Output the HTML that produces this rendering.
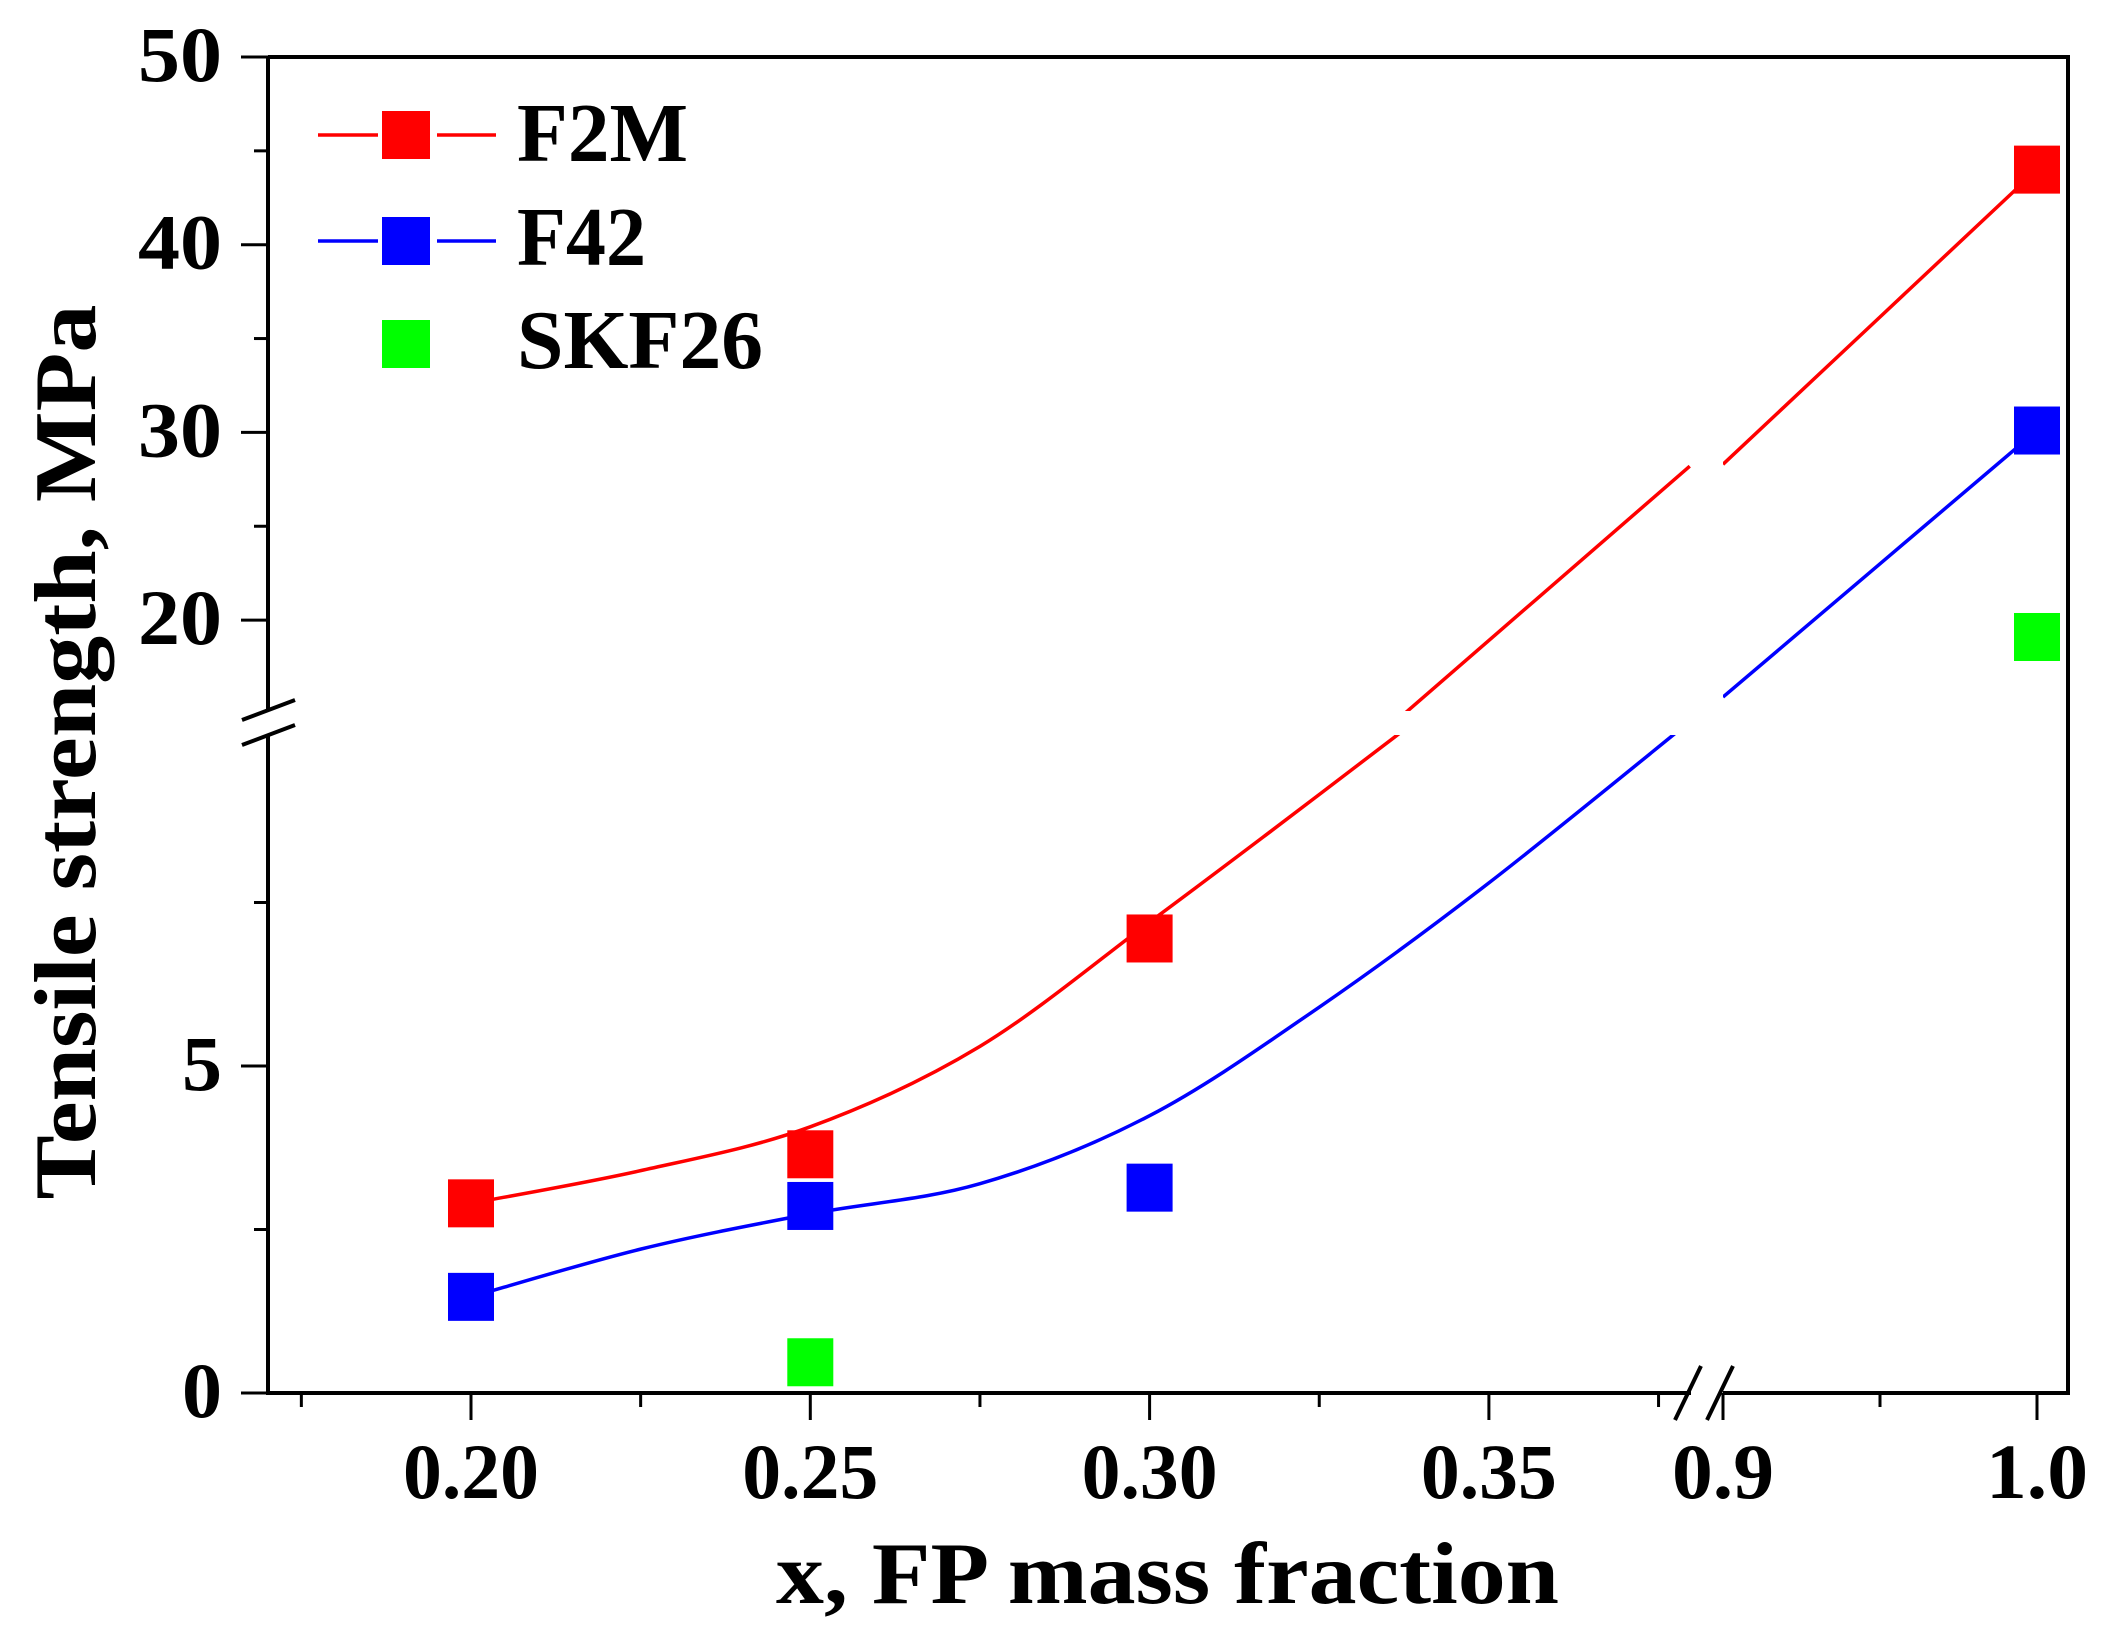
<!DOCTYPE html>
<html><head><meta charset="utf-8"><style>
html,body{margin:0;padding:0;background:#fff;}
svg{display:block;}
text{font-family:"Liberation Serif",serif;font-weight:bold;fill:#000;}
</style></head><body>
<svg id="chart" width="2116" height="1647" viewBox="0 0 2116 1647" xmlns="http://www.w3.org/2000/svg">
<defs>
<clipPath id="clipLower"><rect x="268" y="735" width="1423" height="660"/></clipPath>
<clipPath id="clipUpper"><rect x="268" y="50" width="1423" height="661"/></clipPath>
<clipPath id="clipRight"><rect x="1723" y="50" width="345" height="1345"/></clipPath>
</defs>
<g id="axes"></g>
<g id="curves"></g>
<g id="marks"></g>
<g id="legend">
  <g>
    <line x1="318" y1="135" x2="378" y2="135" stroke="#ff0000" stroke-width="3.5"/>
    <line x1="437" y1="135" x2="496" y2="135" stroke="#ff0000" stroke-width="3.5"/>
    <rect x="382" y="111" width="48" height="48" fill="#ff0000"/>
    <text x="517" y="161" font-size="84" textLength="171" lengthAdjust="spacingAndGlyphs">F2M</text>
  </g>
  <g>
    <line x1="318" y1="241" x2="378" y2="241" stroke="#0000ff" stroke-width="3.5"/>
    <line x1="437" y1="241" x2="496" y2="241" stroke="#0000ff" stroke-width="3.5"/>
    <rect x="382" y="217" width="48" height="48" fill="#0000ff"/>
    <text x="517" y="265" font-size="84" textLength="129" lengthAdjust="spacingAndGlyphs">F42</text>
  </g>
  <g>
    <rect x="382" y="320" width="48" height="48" fill="#00ff00"/>
    <text x="517" y="368" font-size="84" textLength="246" lengthAdjust="spacingAndGlyphs">SKF26</text>
  </g>
</g>
<text x="776" y="1603" font-size="88" textLength="783" lengthAdjust="spacingAndGlyphs">x, FP mass fraction</text>
<text transform="translate(95,752) rotate(-90)" text-anchor="middle" font-size="88" textLength="895" lengthAdjust="spacingAndGlyphs">Tensile strength, MPa</text>
</svg>
<script>
// ---- data ----
const categoriesX = [0.20, 0.25, 0.30, 1.0];
const f2mValues = [2.9, 3.65, 6.95, 44.0];
const f42Values = [1.47, 2.86, 3.14, 30.1];
const skfX = [0.25, 1.0];
const skfValues = [0.47, 19.1];
// fit curves, per axis panel
const f2mFitLowerX = [0.2, 0.225, 0.25, 0.275, 0.3, 0.318, 0.337];
const f2mFitLowerY = [2.9, 3.4, 4.07, 5.3, 7.2, 8.6, 10.1];
const f2mFitUpperX = [0.334, 0.3796];
const f2mFitUpperY = [13.9, 28.2];
const f2mFitRightX = [0.9, 1.0];
const f2mFitRightY = [28.3, 44.0];
const f42FitLowerX = [0.2, 0.225, 0.25, 0.275, 0.3, 0.325, 0.35, 0.38];
const f42FitLowerY = [1.47, 2.2, 2.74, 3.2, 4.24, 5.9, 7.8, 10.3];
const f42FitRightX = [0.9, 1.0];
const f42FitRightY = [15.9, 30.1];
const xTickLeft = [0.20, 0.25, 0.30, 0.35];
const xTickLeftLabels = ["0.20", "0.25", "0.30", "0.35"];
const xMinorLeft = [0.175, 0.225, 0.275, 0.325, 0.375];
const xTickRight = [0.9, 1.0];
const xTickRightLabels = ["0.9", "1.0"];
const xMinorRight = [0.95];
const yTickLower = [0, 5];
const yMinorLower = [2.5, 7.5];
const yTickUpper = [20, 30, 40, 50];
const yMinorUpper = [25, 35, 45];

// ---- scales ----
function xs(v){ return v < 0.6 ? 471 + (v - 0.2) * 6786 : 1723 + (v - 0.9) * 3140; }
function ysLower(v){ return 1393 - v * 65.4; }
function ysUpper(v){ return 57 + (50 - v) * 18.77; }
function ys(v){ return v > 12 ? ysUpper(v) : ysLower(v); }

const NS = "http://www.w3.org/2000/svg";
function mk(tag, attrs, parent){
  const e = document.createElementNS(NS, tag);
  for (const k in attrs) e.setAttribute(k, attrs[k]);
  parent.appendChild(e); return e;
}
const axes = document.getElementById('axes');
const curves = document.getElementById('curves');
const marks = document.getElementById('marks');

let fr = mk('path', {d: 'M268,57 L2068,57 L2068,1393 L1723,1393 M1691,1393 L268,1393 L268,735 M268,711 L268,57', fill: 'none', stroke: '#000', 'stroke-width': 4}, axes);


let bk = mk('path', {d: 'M242,720 L295,700 M242,745 L295,725 M1675,1420 L1701,1366 M1707,1420 L1733,1366', fill: 'none', stroke: '#000', 'stroke-width': 4}, axes);



function xTick(v, len, label){
  const x = xs(v);
  const t = mk('line', {x1: x, y1: 1393, x2: x, y2: 1393 + len, stroke: '#000', 'stroke-width': 3}, axes);
  
  
  if (label) {
    const w = label.length === 4 ? 136 : 102;
    const tx = mk('text', {x: x - w / 2, y: 1498, 'font-size': 78, textLength: w, lengthAdjust: 'spacingAndGlyphs'}, axes);
    tx.textContent = label;
    
    
  }
}
xTickLeft.forEach((v, i) => xTick(v, 27, xTickLeftLabels[i]));
xMinorLeft.forEach(v => xTick(v, 14));
xTickRight.forEach((v, i) => xTick(v, 27, xTickRightLabels[i]));
xMinorRight.forEach(v => xTick(v, 14));

function yTick(y, len, label){
  const t = mk('line', {x1: 268 - len, y1: y, x2: 268, y2: y, stroke: '#000', 'stroke-width': 3}, axes);
  
  
  if (label !== undefined) {
    const w = label.length === 2 ? 84 : 40;
    const tx = mk('text', {x: 222 - w, y: y + 24, 'font-size': 78, textLength: w, lengthAdjust: 'spacingAndGlyphs'}, axes);
    tx.textContent = label;
    
    
  }
}
yTickLower.forEach(v => yTick(ysLower(v), 27, String(v)));
yMinorLower.forEach(v => yTick(ysLower(v), 14));
yTickUpper.forEach(v => yTick(ysUpper(v), 27, String(v)));
yMinorUpper.forEach(v => yTick(ysUpper(v), 14));

function curvePath(X, Y, yf){
  const p = X.map((v, i) => [xs(v), yf(Y[i])]);
  let d = 'M' + p[0][0] + ',' + p[0][1];
  for (let i = 0; i < p.length - 1; i++) {
    const p0 = p[i - 1] || p[i], p1 = p[i], p2 = p[i + 1], p3 = p[i + 2] || p2;
    const c1 = [p1[0] + (p2[0] - p0[0]) / 6, p1[1] + (p2[1] - p0[1]) / 6];
    const c2 = [p2[0] - (p3[0] - p1[0]) / 6, p2[1] - (p3[1] - p1[1]) / 6];
    d += ' C' + c1.join(',') + ' ' + c2.join(',') + ' ' + p2.join(',');
  }
  return d;
}
function drawCurve(X, Y, yf, clip, color, name){
  const c = mk('path', {d: curvePath(X, Y, yf), fill: 'none', stroke: color, 'stroke-width': 3.5, 'clip-path': 'url(#' + clip + ')'}, curves);
  
  
}
drawCurve(f2mFitLowerX, f2mFitLowerY, ysLower, 'clipLower', '#ff0000', 'f2m-fit-lower');
drawCurve(f2mFitUpperX, f2mFitUpperY, ysUpper, 'clipUpper', '#ff0000', 'f2m-fit-upper');
drawCurve(f2mFitRightX, f2mFitRightY, ysUpper, 'clipRight', '#ff0000', 'f2m-fit-right');
drawCurve(f42FitLowerX, f42FitLowerY, ysLower, 'clipLower', '#0000ff', 'f42-fit-lower');
drawCurve(f42FitRightX, f42FitRightY, ysUpper, 'clipRight', '#0000ff', 'f42-fit-right');

function marker(xv, yv, color, name){
  const r = mk('rect', {x: xs(xv) - 23, y: ys(yv) - 24, width: 46, height: 48, fill: color}, marks);
  
  
}
categoriesX.forEach((x, i) => marker(x, f2mValues[i], '#ff0000', 'f2m-point'));
categoriesX.forEach((x, i) => marker(x, f42Values[i], '#0000ff', 'f42-point'));
skfX.forEach((x, i) => marker(x, skfValues[i], '#00ff00', 'skf26-point'));
</script>
</body></html>
